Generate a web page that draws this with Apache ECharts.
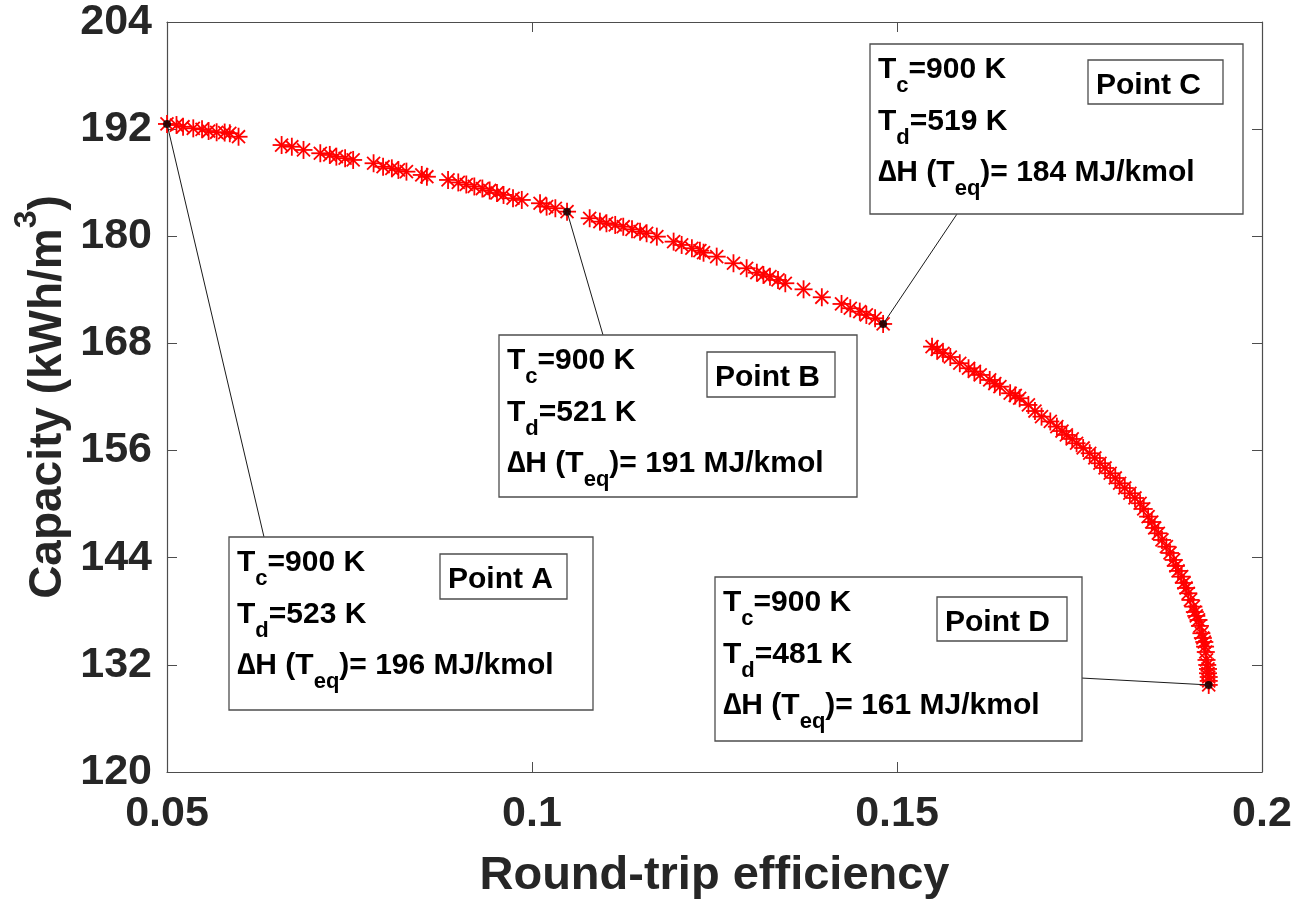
<!DOCTYPE html>
<html>
<head>
<meta charset="utf-8">
<title>Capacity vs round-trip efficiency</title>
<script src="https://cdn.jsdelivr.net/npm/echarts@6/dist/echarts.min.js"></script>
<style>
  html, body { margin: 0; padding: 0; background: #ffffff; }
  #chart { width: 1296px; height: 899px; }
</style>
</head>
<body>
<div id="chart"></div>
<script>
// Pareto front: round-trip efficiency vs volumetric capacity (kWh/m3)
const efficiency = [
  0.0500, 0.0513, 0.0522, 0.0536, 0.0548, 0.0557, 0.0568, 0.0579, 0.0586, 0.0598,
  0.0657, 0.0671, 0.0687, 0.0710, 0.0723, 0.0732, 0.0744, 0.0755, 0.0783, 0.0796,
  0.0808, 0.0817, 0.0828, 0.0849, 0.0856, 0.0885, 0.0899, 0.0910, 0.0921, 0.0932,
  0.0942, 0.0952, 0.0961, 0.0974, 0.0986, 0.1011, 0.1020, 0.1032, 0.1048,
  0.1079, 0.1093, 0.1102, 0.1114, 0.1125, 0.1137, 0.1148, 0.1157, 0.1171, 0.1194,
  0.1205, 0.1219, 0.1230, 0.1235, 0.1253, 0.1276, 0.1294, 0.1308, 0.1317, 0.1326,
  0.1337, 0.1347, 0.1372, 0.1397, 0.1424, 0.1436, 0.1449, 0.1458, 0.1470, 0.1481,
  0.1548, 0.1555, 0.1563, 0.1573, 0.1586, 0.1598, 0.1606, 0.1614, 0.1627, 0.1634,
  0.1641, 0.1655, 0.1662, 0.1668, 0.1680, 0.1689, 0.1698, 0.1710, 0.1719, 0.1726,
  0.1732, 0.1740, 0.1746, 0.1755, 0.1764, 0.1771, 0.1778, 0.1785, 0.1792, 0.1799,
  0.1805, 0.1812, 0.1819, 0.1826, 0.1833, 0.1838, 0.1844, 0.1849, 0.1853, 0.1858,
  0.1863, 0.1869, 0.1874, 0.1879, 0.1882, 0.1885, 0.1890, 0.1893, 0.1896, 0.1899,
  0.1902, 0.1906, 0.1908, 0.1910, 0.1913, 0.1915, 0.1917, 0.1919, 0.1921, 0.1922,
  0.1923, 0.1924, 0.1925, 0.1926, 0.1926, 0.1927, 0.1927, 0.1927
];
const capacity = [
  192.58, 192.46, 192.27, 192.09, 191.98, 191.79, 191.65, 191.62, 191.54, 191.15,
  190.22, 190.03, 189.67, 189.30, 189.11, 188.92, 188.74, 188.55, 188.18, 187.79,
  187.61, 187.43, 187.24, 186.87, 186.67, 186.31, 186.03, 185.80, 185.58, 185.35,
  185.13, 184.85, 184.63, 184.26, 184.07, 183.70, 183.32, 183.14, 182.76,
  182.02, 181.64, 181.46, 181.27, 181.07, 180.78, 180.52, 180.34, 179.96, 179.40,
  179.03, 178.66, 178.39, 178.16, 177.72, 176.98, 176.42, 175.92, 175.67, 175.48,
  175.11, 174.74, 174.06, 173.17, 172.42, 171.94, 171.56, 171.19, 170.82, 170.18,
  167.64, 167.32, 166.90, 166.48, 165.78, 165.22, 164.86, 164.47, 163.91, 163.51,
  163.16, 162.42, 162.17, 161.86, 161.11, 160.43, 159.80, 159.26, 158.68, 158.19,
  157.75, 157.30, 156.82, 156.29, 155.70, 155.17, 154.58, 154.05, 153.46, 152.93,
  152.34, 151.81, 151.22, 150.69, 150.10, 149.46, 148.60, 148.00, 147.33, 146.74,
  145.99, 145.24, 144.53, 143.75, 143.08, 142.52, 141.88, 141.17, 140.61, 140.02,
  139.27, 138.52, 137.92, 137.48, 137.03, 136.36, 135.54, 135.01, 134.56, 134.04,
  133.44, 132.55, 131.99, 131.54, 131.06, 130.64, 130.20, 129.75
];

// Selected operating points
const pointNames = ['A', 'B', 'C', 'D'];
const pointEfficiency = [0.0500, 0.1048, 0.1481, 0.1927];
const pointCapacity = [192.58, 182.76, 170.18, 129.75];
const chargeTemp = [900, 900, 900, 900];          // T_c, K
const dischargeTemp = [523, 521, 519, 481];       // T_d, K
const reactionEnthalpy = [196, 191, 184, 161];    // ΔH(T_eq), MJ/kmol

// Axis ranges and ticks
const xMin = 0.05, xMax = 0.2, xStep = 0.05;
const yMin = 120, yMax = 204, yStep = 12;

const FONT = '"Liberation Sans", Arial, Helvetica, sans-serif';
const AXIS_COLOR = '#4d4d4d';
const LABEL_COLOR = '#262626';

const chart = echarts.init(document.getElementById('chart'), null, { renderer: 'canvas' });

const tickStyle = { show: true, inside: true, length: 10, lineStyle: { color: AXIS_COLOR, width: 1 } };
const lineStyle = { show: true, lineStyle: { color: AXIS_COLOR, width: 1.2 } };

// MATLAB-style '*' marker drawn as four crossing strokes
function asteriskItem(params, api) {
  const p = api.coord([api.value(0), api.value(1)]);
  const r = 9, d = r * 0.72;
  const segs = [
    [p[0] - r, p[1], p[0] + r, p[1]],
    [p[0], p[1] - r, p[0], p[1] + r],
    [p[0] - d, p[1] - d, p[0] + d, p[1] + d],
    [p[0] - d, p[1] + d, p[0] + d, p[1] - d]
  ];
  return {
    type: 'group',
    children: segs.map(s => ({
      type: 'line',
      shape: { x1: s[0], y1: s[1], x2: s[2], y2: s[3] },
      style: { stroke: '#ff0000', lineWidth: 1.8 }
    }))
  };
}

const option = {
  animation: false,
  backgroundColor: '#ffffff',
  grid: { left: 167, right: 34, top: 22, bottom: 127, outerBoundsMode: 'none', containLabel: false },
  xAxis: [
    {
      type: 'value', min: xMin, max: xMax, interval: xStep, position: 'bottom',
      axisLine: lineStyle, axisTick: tickStyle, splitLine: { show: false },
      axisLabel: {
        margin: 21, fontFamily: FONT, fontWeight: 'bold', fontSize: 43, color: LABEL_COLOR,
        formatter: v => String(+v.toFixed(2))
      },
      name: 'Round-trip efficiency', nameLocation: 'middle', nameGap: 81,
      nameTextStyle: { fontFamily: FONT, fontWeight: 'bold', fontSize: 47, color: LABEL_COLOR }
    },
    {
      type: 'value', min: xMin, max: xMax, interval: xStep, position: 'top',
      axisLine: lineStyle, axisTick: tickStyle, axisLabel: { show: false }, splitLine: { show: false }
    }
  ],
  yAxis: [
    {
      type: 'value', min: yMin, max: yMax, interval: yStep, position: 'left',
      axisLine: lineStyle, axisTick: tickStyle, splitLine: { show: false },
      axisLabel: { margin: 15, fontFamily: FONT, fontWeight: 'bold', fontSize: 43, color: LABEL_COLOR }
    },
    {
      type: 'value', min: yMin, max: yMax, interval: yStep, position: 'right',
      axisLine: lineStyle, axisTick: tickStyle, axisLabel: { show: false }, splitLine: { show: false }
    }
  ],
  series: [
    {
      type: 'custom',
      name: 'Pareto front',
      xAxisIndex: 0, yAxisIndex: 0,
      renderItem: asteriskItem,
      data: efficiency.map((x, i) => [x, capacity[i]]),
      z: 2
    },
    {
      type: 'scatter',
      name: 'Selected points',
      xAxisIndex: 0, yAxisIndex: 0,
      symbol: 'circle', symbolSize: 8,
      itemStyle: { color: '#000000' },
      data: pointEfficiency.map((x, i) => [x, pointCapacity[i]]),
      z: 5
    }
  ]
};
chart.setOption(option);

// ---- text helpers ----
const measureCtx = document.createElement('canvas').getContext('2d');
function textWidth(t, size) {
  measureCtx.font = 'bold ' + size + 'px ' + FONT;
  return measureCtx.measureText(t).width;
}
function textEl(txt, x, baseline, fs, color, z) {
  return {
    type: 'text', z: z, silent: true,
    style: {
      text: txt, x: x, y: baseline - 0.3465 * fs,
      font: 'bold ' + fs + 'px ' + FONT, fill: color,
      align: 'left', verticalAlign: 'middle',
      textAlign: 'left', textVerticalAlign: 'middle'
    }
  };
}
// parts: [text, baseline shift, size] runs laid out left to right
function textRun(parts, x, baseline, color, z) {
  const out = [];
  let cx = x;
  parts.forEach(([txt, shift, fs]) => {
    out.push(textEl(txt, cx, baseline + shift, fs, color, z));
    cx += textWidth(txt, fs);
  });
  return out;
}
function runWidth(parts) {
  return parts.reduce((s, [txt, , fs]) => s + textWidth(txt, fs), 0);
}

// ---- y-axis title with superscript, rotated to read bottom-to-top ----
const gridRect = { top: 22, bottom: 899 - 127 };
const yTitleParts = [['Capacity (kWh/m', 0, 46], ['3', -26, 32], [')', 0, 46]];
const yTitleW = runWidth(yTitleParts);
const yTitle = {
  type: 'group',
  x: 64, y: (gridRect.top + gridRect.bottom) / 2,
  rotation: Math.PI / 2,
  children: textRun(yTitleParts, -yTitleW / 2, 0, LABEL_COLOR, 30)
};

// ---- annotation call-outs ----
// Box layout (pixels): frame, leader-line anchor on the frame, inner tag box
const callouts = [
  { left: 229, top: 537, w: 364, h: 173, anchor: [264, 537], tag: [211, 17, 127, 45] },
  { left: 499, top: 335, w: 358, h: 162, anchor: [603, 335], tag: [208, 17, 128, 45] },
  { left: 870, top: 44,  w: 373, h: 170, anchor: [957, 214], tag: [218, 16, 135, 44] },
  { left: 715, top: 577, w: 367, h: 164, anchor: [1081, 678], tag: [222, 20, 130, 44] }
];

const MAIN = 30, SUB = 22, DROP = 14;
const graphics = [yTitle];
callouts.forEach((c, i) => {
  const p = chart.convertToPixel({ seriesIndex: 1 }, [pointEfficiency[i], pointCapacity[i]]);
  graphics.push({
    type: 'line', z: 10, silent: true,
    shape: { x1: p[0], y1: p[1], x2: c.anchor[0], y2: c.anchor[1] },
    style: { stroke: '#1a1a1a', lineWidth: 1 }
  });
  graphics.push({
    type: 'rect', z: 20, silent: true,
    shape: { x: c.left, y: c.top, width: c.w, height: c.h },
    style: { fill: '#ffffff', stroke: '#4d4d4d', lineWidth: 1.3 }
  });
  graphics.push({
    type: 'rect', z: 21, silent: true,
    shape: { x: c.left + c.tag[0], y: c.top + c.tag[1], width: c.tag[2], height: c.tag[3] },
    style: { fill: '#ffffff', stroke: '#4d4d4d', lineWidth: 1.3 }
  });
  const tx = c.left + 8;
  graphics.push(...textRun([['T', 0, MAIN], ['c', DROP, SUB], ['=' + chargeTemp[i] + ' K', 0, MAIN]], tx, c.top + 36, '#000000', 30));
  graphics.push(...textRun([['T', 0, MAIN], ['d', DROP, SUB], ['=' + dischargeTemp[i] + ' K', 0, MAIN]], tx, c.top + 88, '#000000', 30));
  graphics.push(...textRun([['\u2206H (T', 0, MAIN], ['eq', DROP, SUB], [')= ' + reactionEnthalpy[i] + ' MJ/kmol', 0, MAIN]], tx, c.top + 139, '#000000', 30));
  graphics.push(...textRun([['Point ' + pointNames[i], 0, MAIN]], c.left + c.tag[0] + 8, c.top + c.tag[1] + 36, '#000000', 30));
});

chart.setOption({ graphic: { elements: graphics } });
</script>
</body>
</html>
